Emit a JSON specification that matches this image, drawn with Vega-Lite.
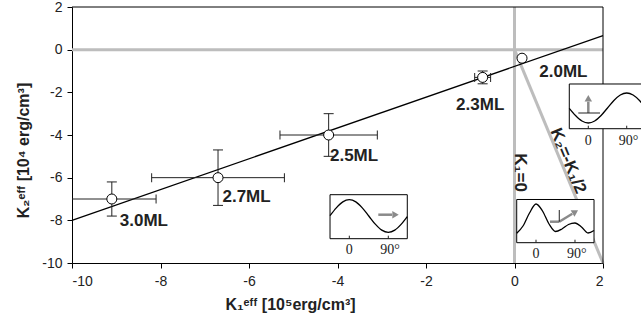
{
  "$schema": "https://vega.github.io/schema/vega-lite/v6.json",
  "width": 531,
  "height": 256,
  "autosize": "none",
  "padding": {"left": 72, "top": 7, "right": 38, "bottom": 66},
  "background": "white",
  "config": {"view": {"stroke": null}, "font": "Liberation Sans"},
  "datasets": {
    "ref": [
      {"x": -10, "y": 0, "x2": 2, "y2": 0},
      {"x": 0, "y": 2, "x2": 0, "y2": -10},
      {"x": 0, "y": 0, "x2": 2, "y2": -10}
    ],
    "frame": [
      {"x": -10, "y": 2, "x2": 2, "y2": 2},
      {"x": 2, "y": 2, "x2": 2, "y2": -10}
    ],
    "fit": [{"x": -10, "y": -8, "x2": 2, "y2": 0.66}],
    "pts": [
      {"k1": -9.1, "k2": -7.0, "xlo": -10, "xhi": -8.1, "ylo": -7.8, "yhi": -6.2},
      {"k1": -6.7, "k2": -6.0, "xlo": -8.2, "xhi": -5.2, "ylo": -7.3, "yhi": -4.7},
      {"k1": -4.2, "k2": -4.0, "xlo": -5.3, "xhi": -3.1, "ylo": -5.0, "yhi": -3.0},
      {"k1": -0.72, "k2": -1.3, "xlo": -0.9, "xhi": -0.54, "ylo": -1.6, "yhi": -1.0},
      {"k1": 0.17, "k2": -0.4}
    ],
    "hcaps": [
      {"x": -8.1, "y": -7.0}, {"x": -8.2, "y": -6.0}, {"x": -5.2, "y": -6.0},
      {"x": -5.3, "y": -4.0}, {"x": -3.1, "y": -4.0}, {"x": -0.9, "y": -1.3}, {"x": -0.54, "y": -1.3}
    ],
    "vcaps": [
      {"x": -9.1, "y": -7.8}, {"x": -9.1, "y": -6.2}, {"x": -6.7, "y": -7.3}, {"x": -6.7, "y": -4.7},
      {"x": -4.2, "y": -5.0}, {"x": -4.2, "y": -3.0}, {"x": -0.72, "y": -1.6}, {"x": -0.72, "y": -1.0}
    ],
    "labels": [
      {"x": -8.92, "y": -8.03, "t": "3.0ML"},
      {"x": -6.6, "y": -6.89, "t": "2.7ML"},
      {"x": -4.17, "y": -4.99, "t": "2.5ML"},
      {"x": -1.32, "y": -2.59, "t": "2.3ML"},
      {"x": 0.56, "y": -1.06, "t": "2.0ML"}
    ],
    "rotlabels": [
      {"x": 0.124, "y": -5.758, "t": "K₁=0", "a": 90},
      {"x": 1.209, "y": -5.219, "t": "K₂=-K₁/2", "a": 67.5}
    ],
    "boxes": [
      {"x": -4.169, "x2": -2.423, "y": -6.798, "y2": -8.861},
      {"x": 1.238, "x2": 3.4, "y": -1.609, "y2": -3.705},
      {"x": 0.05, "x2": 1.797, "y": -7.023, "y2": -9.048}
    ],
    "curves": [
      {"k": "a", "x": -4.169, "y": -7.783}, {"k": "a", "x": -4.027, "y": -7.415}, {"k": "a", "x": -3.88, "y": -7.135},
      {"k": "a", "x": -3.733, "y": -7.033}, {"k": "a", "x": -3.586, "y": -7.135}, {"k": "a", "x": -3.44, "y": -7.415},
      {"k": "a", "x": -3.293, "y": -7.797}, {"k": "a", "x": -3.146, "y": -8.179}, {"k": "a", "x": -2.999, "y": -8.459},
      {"k": "a", "x": -2.852, "y": -8.561}, {"k": "a", "x": -2.705, "y": -8.459}, {"k": "a", "x": -2.558, "y": -8.179},
      {"k": "a", "x": -2.423, "y": -7.83},
      {"k": "b", "x": 1.238, "y": -2.748}, {"k": "b", "x": 1.379, "y": -3.086}, {"k": "b", "x": 1.524, "y": -3.344},
      {"k": "b", "x": 1.668, "y": -3.437}, {"k": "b", "x": 1.812, "y": -3.344}, {"k": "b", "x": 1.957, "y": -3.086},
      {"k": "b", "x": 2.102, "y": -2.734}, {"k": "b", "x": 2.246, "y": -2.383}, {"k": "b", "x": 2.391, "y": -2.125},
      {"k": "b", "x": 2.536, "y": -2.031}, {"k": "b", "x": 2.68, "y": -2.125}, {"k": "b", "x": 2.825, "y": -2.383},
      {"k": "b", "x": 2.969, "y": -2.734}, {"k": "b", "x": 3.114, "y": -3.086},
      {"k": "c", "x": 0.05, "y": -8.608}, {"k": "c", "x": 0.192, "y": -8.266}, {"k": "c", "x": 0.339, "y": -7.656},
      {"k": "c", "x": 0.486, "y": -7.234}, {"k": "c", "x": 0.633, "y": -7.562}, {"k": "c", "x": 0.78, "y": -8.172},
      {"k": "c", "x": 0.927, "y": -8.523}, {"k": "c", "x": 1.073, "y": -8.406}, {"k": "c", "x": 1.22, "y": -8.195},
      {"k": "c", "x": 1.367, "y": -8.125}, {"k": "c", "x": 1.514, "y": -8.312}, {"k": "c", "x": 1.661, "y": -8.594},
      {"k": "c", "x": 1.797, "y": -8.477}
    ],
    "shafts": [
      {"x": -3.078, "y": -7.736, "x2": -2.768, "y2": -7.736},
      {"x": 1.668, "y": -2.969, "x2": 1.668, "y2": -2.439},
      {"x": 1.012, "y": -8.064, "x2": 1.306, "y2": -7.689},
      {"x": 0.802, "y": -8.064, "x2": 1.012, "y2": -8.064}
    ],
    "heads": [
      {"x": -2.689, "y": -7.736, "s": "triangle-right", "a": 0},
      {"x": 1.668, "y": -2.275, "s": "triangle-up", "a": 0},
      {"x": 1.374, "y": -7.601, "s": "triangle-right", "a": -31.6}
    ],
    "dark": [
      {"x": 1.442, "y": -2.969, "x2": 1.932, "y2": -2.969},
      {"x": 1.012, "y": -7.516, "x2": 1.012, "y2": -8.064},
      {"x": -3.733, "y": -8.861, "x2": -3.733, "y2": -8.72},
      {"x": -2.852, "y": -8.861, "x2": -2.852, "y2": -8.72},
      {"x": 1.668, "y": -3.705, "x2": 1.668, "y2": -3.565},
      {"x": 2.536, "y": -3.705, "x2": 2.536, "y2": -3.565},
      {"x": 0.486, "y": -9.048, "x2": 0.486, "y2": -8.908},
      {"x": 1.367, "y": -9.048, "x2": 1.367, "y2": -8.908}
    ],
    "insetlabels": [
      {"x": -3.733, "y": -9.376, "t": "0"}, {"x": -2.813, "y": -9.376, "t": "90°"},
      {"x": 1.668, "y": -4.295, "t": "0"}, {"x": 2.575, "y": -4.295, "t": "90°"},
      {"x": 0.486, "y": -9.555, "t": "0"}, {"x": 1.406, "y": -9.555, "t": "90°"}
    ]
  },
  "layer": [
    {
      "data": {"name": "ref"},
      "mark": {"type": "rule", "color": "#bdbdbd", "strokeWidth": 3},
      "encoding": {
        "x": {
          "field": "x", "type": "quantitative",
          "scale": {"domain": [-10, 2], "nice": false, "zero": false},
          "axis": {
            "values": [-10, -8, -6, -4, -2, 0, 2], "grid": false,
            "labelExpr": "'' + datum.value",
            "tickSize": 5, "tickColor": "black", "domainColor": "black",
            "labelFontSize": 14, "labelColor": "#222", "labelPadding": 6,
            "title": "K₁ᵉᶠᶠ [10⁵erg/cm³]", "titleFontSize": 16, "titleFontWeight": "bold",
            "titleColor": "#222", "titleX": 218, "titlePadding": 8
          }
        },
        "y": {
          "field": "y", "type": "quantitative",
          "scale": {"domain": [-10, 2], "nice": false, "zero": false},
          "axis": {
            "values": [-10, -8, -6, -4, -2, 0, 2], "grid": false,
            "labelExpr": "'' + datum.value",
            "tickSize": 5, "tickColor": "black", "domainColor": "black",
            "labelFontSize": 14, "labelColor": "#222", "labelPadding": 5,
            "title": "K₂ᵉᶠᶠ [10⁴ erg/cm³]", "titleFontSize": 16, "titleFontWeight": "bold",
            "titleColor": "#222", "titleY": 143, "titlePadding": 10
          }
        },
        "x2": {"field": "x2"},
        "y2": {"field": "y2"}
      }
    },
    {
      "data": {"name": "frame"},
      "mark": {"type": "rule", "color": "black", "strokeWidth": 1},
      "encoding": {
        "x": {"field": "x", "type": "quantitative"},
        "y": {"field": "y", "type": "quantitative"},
        "x2": {"field": "x2"},
        "y2": {"field": "y2"}
      }
    },
    {
      "data": {"name": "fit"},
      "mark": {"type": "rule", "color": "black", "strokeWidth": 1.3},
      "encoding": {
        "x": {"field": "x", "type": "quantitative"},
        "y": {"field": "y", "type": "quantitative"},
        "x2": {"field": "x2"},
        "y2": {"field": "y2"}
      }
    },
    {
      "data": {"name": "pts"},
      "transform": [{"filter": "datum.xlo != null"}],
      "mark": {"type": "rule", "color": "#222", "strokeWidth": 1},
      "encoding": {
        "x": {"field": "xlo", "type": "quantitative"},
        "x2": {"field": "xhi"},
        "y": {"field": "k2", "type": "quantitative"}
      }
    },
    {
      "data": {"name": "pts"},
      "transform": [{"filter": "datum.ylo != null"}],
      "mark": {"type": "rule", "color": "#222", "strokeWidth": 1},
      "encoding": {
        "y": {"field": "ylo", "type": "quantitative"},
        "y2": {"field": "yhi"},
        "x": {"field": "k1", "type": "quantitative"}
      }
    },
    {
      "data": {"name": "hcaps"},
      "mark": {"type": "tick", "orient": "vertical", "size": 9, "thickness": 1, "color": "#222", "opacity": 1},
      "encoding": {
        "x": {"field": "x", "type": "quantitative"},
        "y": {"field": "y", "type": "quantitative"}
      }
    },
    {
      "data": {"name": "vcaps"},
      "mark": {"type": "tick", "orient": "horizontal", "size": 10, "thickness": 1, "color": "#222", "opacity": 1},
      "encoding": {
        "x": {"field": "x", "type": "quantitative"},
        "y": {"field": "y", "type": "quantitative"}
      }
    },
    {
      "data": {"name": "pts"},
      "mark": {"type": "point", "shape": "circle", "filled": true, "fill": "white", "stroke": "black", "strokeWidth": 1, "size": 100, "opacity": 1},
      "encoding": {
        "x": {"field": "k1", "type": "quantitative"},
        "y": {"field": "k2", "type": "quantitative"}
      }
    },
    {
      "data": {"name": "labels"},
      "mark": {"type": "text", "align": "left", "baseline": "middle", "fontSize": 17, "fontWeight": "bold", "font": "Liberation Sans", "color": "#222"},
      "encoding": {
        "x": {"field": "x", "type": "quantitative"},
        "y": {"field": "y", "type": "quantitative"},
        "text": {"field": "t"}
      }
    },
    {
      "data": {"name": "rotlabels"},
      "mark": {"type": "text", "align": "center", "baseline": "middle", "fontSize": 17, "fontWeight": "bold", "font": "Liberation Sans", "color": "#222"},
      "encoding": {
        "x": {"field": "x", "type": "quantitative"},
        "y": {"field": "y", "type": "quantitative"},
        "angle": {"field": "a", "type": "quantitative", "scale": null},
        "text": {"field": "t"}
      }
    },
    {
      "data": {"name": "boxes"},
      "mark": {"type": "rect", "fill": "white", "stroke": "black", "strokeWidth": 1},
      "encoding": {
        "x": {"field": "x", "type": "quantitative"},
        "x2": {"field": "x2"},
        "y": {"field": "y", "type": "quantitative"},
        "y2": {"field": "y2"}
      }
    },
    {
      "data": {"name": "curves"},
      "mark": {"type": "line", "color": "black", "strokeWidth": 1.3, "interpolate": "monotone"},
      "encoding": {
        "x": {"field": "x", "type": "quantitative"},
        "y": {"field": "y", "type": "quantitative"},
        "detail": {"field": "k"}
      }
    },
    {
      "data": {"name": "shafts"},
      "mark": {"type": "rule", "color": "#8a8a8a", "strokeWidth": 2.5},
      "encoding": {
        "x": {"field": "x", "type": "quantitative"},
        "y": {"field": "y", "type": "quantitative"},
        "x2": {"field": "x2"},
        "y2": {"field": "y2"}
      }
    },
    {
      "data": {"name": "heads"},
      "mark": {"type": "point", "filled": true, "color": "#8a8a8a", "size": 55, "opacity": 1},
      "encoding": {
        "x": {"field": "x", "type": "quantitative"},
        "y": {"field": "y", "type": "quantitative"},
        "shape": {"field": "s", "type": "nominal", "scale": null},
        "angle": {"field": "a", "type": "quantitative", "scale": null}
      }
    },
    {
      "data": {"name": "dark"},
      "mark": {"type": "rule", "color": "#222", "strokeWidth": 1},
      "encoding": {
        "x": {"field": "x", "type": "quantitative"},
        "y": {"field": "y", "type": "quantitative"},
        "x2": {"field": "x2"},
        "y2": {"field": "y2"}
      }
    },
    {
      "data": {"name": "insetlabels"},
      "mark": {"type": "text", "align": "center", "baseline": "middle", "fontSize": 14, "font": "Liberation Serif", "color": "#222"},
      "encoding": {
        "x": {"field": "x", "type": "quantitative"},
        "y": {"field": "y", "type": "quantitative"},
        "text": {"field": "t"}
      }
    }
  ]
}
